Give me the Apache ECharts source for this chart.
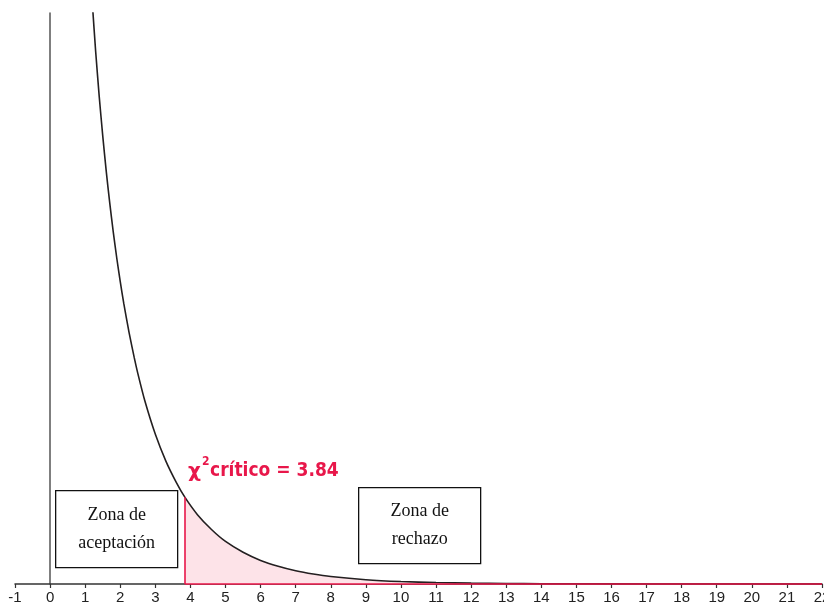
<!DOCTYPE html>
<html><head><meta charset="utf-8">
<script src="https://cdn.jsdelivr.net/npm/echarts@6/dist/echarts.min.js"></script>
<style>html,body{margin:0;padding:0;background:#fff;overflow:hidden}#c{width:824px;height:608px}</style>
</head><body><div id="c"></div>
<script>
// Chi-square density curve values
const curveX = [1.2,1.3,1.4,1.5,1.6,1.7,1.8,1.9,2.0,2.1,2.25,2.4,2.5,2.7,3.0,3.3,3.6,3.84,4.2,4.6,5.0,5.5,6.0,6.5,7.0,7.5,8.0,9.0,10.0,11.0,12.0,13.0,14.0,16.0,18.0,20.0,22.0];
const curveY = [0.200,0.1826,0.1674,0.1539,0.1417,0.1308,0.1209,0.1119,0.1038,0.0963,0.0864,0.0776,0.0723,0.0629,0.0514,0.0422,0.0348,0.0298,0.0238,0.0187,0.0146,0.0109,0.0081,0.0061,0.00455,0.00343,0.00258,0.00148,0.00085,0.00049,0.00029,0.00017,0.0001,0.000033,0.00001,0.000003,0.000001];
const critical = 3.84;
const xTicksMin = -1, xTicksMax = 22;
const labelText = 'crítico = 3.84';
const boxLeftLines = ['Zona de', 'aceptación'];
const boxRightLines = ['Zona de', 'rechazo'];

const curve = curveX.map((x, i) => [x, curveY[i]]);
const tail = curve.filter(p => p[0] >= critical);
const critY = curveY[curveX.indexOf(critical)];

const chart = echarts.init(document.getElementById('c'), null, {renderer: 'canvas'});
const red = '#e8174a';
const serif = '"Liberation Serif", "Times New Roman", serif';
function box(x, y, w, h, lines) {
  return {
    type: 'group', left: x, top: y,
    children: [
      {type: 'rect', shape: {x: 0, y: 0, width: w, height: h}, style: {fill: '#fff', stroke: '#111', lineWidth: 1.3}},
      {type: 'text', x: w / 2, y: h / 2 - 14, style: {text: lines[0], font: '18px ' + serif, fill: '#111', align: 'center', verticalAlign: 'middle'}},
      {type: 'text', x: w / 2, y: h / 2 + 14, style: {text: lines[1], font: '18px ' + serif, fill: '#111', align: 'center', verticalAlign: 'middle'}}
    ]
  };
}
chart.setOption({
  animation: false,
  backgroundColor: '#fff',
  grid: {left: 15, right: 2, top: 13, bottom: 24, containLabel: false, outerBoundsMode: 'none'},
  xAxis: {
    type: 'value', min: xTicksMin, max: xTicksMax, interval: 1,
    axisLine: {show: true, onZero: true, lineStyle: {color: '#333', width: 1.5}},
    axisTick: {show: true, length: 4, lineStyle: {color: '#333', width: 1.2}},
    axisLabel: {color: '#222', fontSize: 15, fontFamily: '"Liberation Sans", Arial, sans-serif', margin: 6, showMaxLabel: true, showMinLabel: true, hideOverlap: false},
    splitLine: {show: false}
  },
  yAxis: {
    type: 'value', min: 0, max: 0.196,
    axisLine: {show: true, onZero: true, lineStyle: {color: '#555', width: 1.5}},
    axisTick: {show: false}, axisLabel: {show: false}, splitLine: {show: false}
  },
  series: [
    {
      type: 'line', data: tail, symbol: 'none', smooth: 0.2, z: 1,
      lineStyle: {width: 0, opacity: 0},
      areaStyle: {color: '#fde3e8', opacity: 1}
    },
    {
      type: 'line', data: curve, symbol: 'none', smooth: 0.2, clip: true, z: 3,
      lineStyle: {color: '#231f20', width: 1.6},
      markLine: {
        silent: true, symbol: 'none', animation: false,
        lineStyle: {color: red, width: 1.6, type: 'solid'},
        label: {show: false},
        data: [
          [{coord: [critical, 0]}, {coord: [critical, critY]}],
          [{coord: [critical, 0]}, {coord: [xTicksMax, 0]}]
        ]
      }
    }
  ],
  graphic: [
    {type: 'text', left: 188, top: 462, style: {text: 'χ', font: 'bold 20px "DejaVu Sans", sans-serif', fill: red}},
    {type: 'text', left: 202, top: 456, style: {text: '2', font: 'bold 12px "Liberation Sans Narrow", "DejaVu Sans Condensed", sans-serif', fill: red}},
    {type: 'text', left: 210, top: 462, style: {text: labelText, font: 'bold 19px "Liberation Sans Narrow", "DejaVu Sans Condensed", sans-serif', fill: red}},
    box(55, 490, 122, 77, boxLeftLines),
    box(358, 487, 122, 76, boxRightLines)
  ]
});
</script></body></html>
